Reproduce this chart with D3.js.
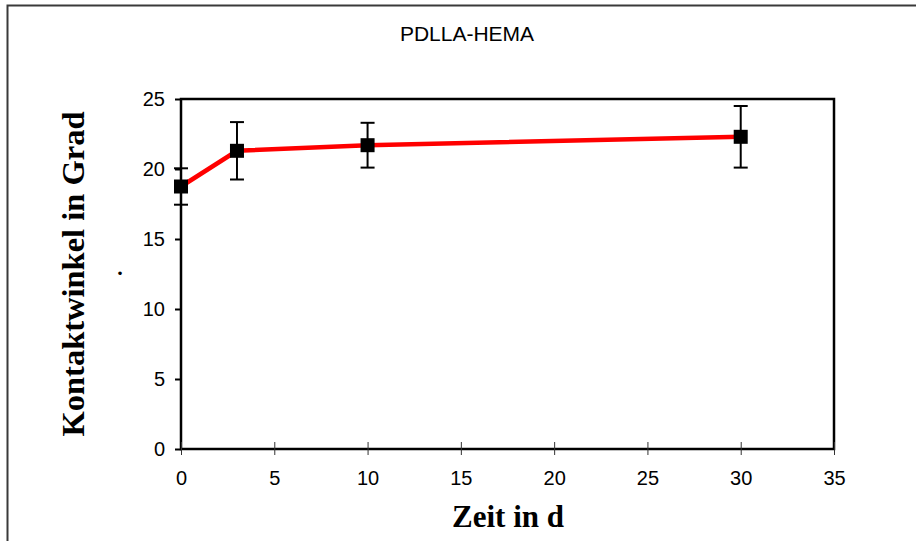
<!DOCTYPE html>
<html>
<head>
<meta charset="utf-8">
<script src="https://cdn.jsdelivr.net/npm/d3@7"></script>
<style>
  html, body { margin: 0; padding: 0; background: #fff; }
  svg { display: block; }
</style>
</head>
<body>
<svg id="chart" width="916" height="541"></svg>
<script>
// ---- data ----
const days = [0, 3, 10, 30];
const angle = [18.75, 21.3, 21.7, 22.3];
const errorVals = [1.3, 2.05, 1.6, 2.2];
const xTicks = [0, 5, 10, 15, 20, 25, 30, 35];
const yTicks = [0, 5, 10, 15, 20, 25];
const title = "PDLLA-HEMA";
const xLabel = "Zeit in d";
const yLabel = "Kontaktwinkel in Grad";

const svg = d3.select("#chart");
const m = { left: 181, top: 99, right: 834, bottom: 449 };

// outer border (extends beyond the window on right and bottom)
svg.append("rect")
  .attr("x", 7.5).attr("y", 5.5)
  .attr("width", 1000).attr("height", 1000)
  .attr("fill", "none").attr("stroke", "#3a3a3a").attr("stroke-width", 2);

const x = d3.scaleLinear().domain([0, 35]).range([m.left, m.right]);
const y = d3.scaleLinear().domain([0, 25]).range([m.bottom, m.top]);

// plot frame
svg.append("rect")
  .attr("x", m.left).attr("y", m.top)
  .attr("width", m.right - m.left).attr("height", m.bottom - m.top)
  .attr("fill", "none").attr("stroke", "#000").attr("stroke-width", 2.5);

// x axis
const xAxis = svg.append("g")
  .attr("transform", `translate(0,${m.bottom})`)
  .call(d3.axisBottom(x).tickValues(xTicks).tickSizeInner(6).tickSizeOuter(0).tickPadding(16));
xAxis.select(".domain").remove();
xAxis.selectAll(".tick line").attr("y1", -7).attr("y2", 6).attr("stroke", "#333").attr("stroke-width", 1);
xAxis.selectAll(".tick text")
  .attr("font-family", "Arial, 'Liberation Sans', sans-serif")
  .attr("font-size", 20).attr("fill", "#000");

// y axis
const yAxis = svg.append("g")
  .attr("transform", `translate(${m.left},0)`)
  .call(d3.axisLeft(y).tickValues(yTicks).tickSizeInner(6).tickSizeOuter(0).tickPadding(10));
yAxis.select(".domain").remove();
yAxis.selectAll(".tick line").attr("stroke", "#000").attr("stroke-width", 2);
yAxis.selectAll(".tick text")
  .attr("font-family", "Arial, 'Liberation Sans', sans-serif")
  .attr("font-size", 20).attr("fill", "#000");

const pts = days.map((d, i) => ({ d, v: angle[i], e: errorVals[i] }));

// line
svg.append("path")
  .datum(pts)
  .attr("fill", "none").attr("stroke", "#ff0000").attr("stroke-width", 4.5)
  .attr("d", d3.line().x(p => x(p.d)).y(p => y(p.v)));

// error bars
const cap = 7;
const eb = svg.append("g").attr("stroke", "#000").attr("stroke-width", 2);
pts.forEach(p => {
  const cx = x(p.d);
  eb.append("line").attr("x1", cx).attr("x2", cx).attr("y1", y(p.v + p.e)).attr("y2", y(p.v - p.e));
  eb.append("line").attr("x1", cx - cap).attr("x2", cx + cap).attr("y1", y(p.v + p.e)).attr("y2", y(p.v + p.e));
  eb.append("line").attr("x1", cx - cap).attr("x2", cx + cap).attr("y1", y(p.v - p.e)).attr("y2", y(p.v - p.e));
});

// markers
const ms = 14;
svg.append("g").selectAll("rect").data(pts).join("rect")
  .attr("x", p => x(p.d) - ms / 2).attr("y", p => y(p.v) - ms / 2)
  .attr("width", ms).attr("height", ms).attr("fill", "#000");

// title
svg.append("text")
  .attr("x", 467).attr("y", 41).attr("text-anchor", "middle")
  .attr("font-family", "Arial, 'Liberation Sans', sans-serif")
  .attr("font-size", 21).attr("fill", "#000").text(title);

// x label
svg.append("text")
  .attr("x", 508).attr("y", 527).attr("text-anchor", "middle")
  .attr("font-family", "'Times New Roman', 'Liberation Serif', serif")
  .attr("font-weight", "bold").attr("font-size", 31).attr("fill", "#000").text(xLabel);

// y label
svg.append("text")
  .attr("transform", "translate(84,274) rotate(-90)")
  .attr("text-anchor", "middle")
  .attr("font-family", "'Times New Roman', 'Liberation Serif', serif")
  .attr("font-weight", "bold").attr("font-size", 32.5).attr("fill", "#000").text(yLabel);

// stray dot
svg.append("text")
  .attr("x", 120).attr("y", 275).attr("text-anchor", "middle")
  .attr("font-family", "'Times New Roman', 'Liberation Serif', serif")
  .attr("font-weight", "bold").attr("font-size", 22).attr("fill", "#000").text(".");
</script>
</body>
</html>
